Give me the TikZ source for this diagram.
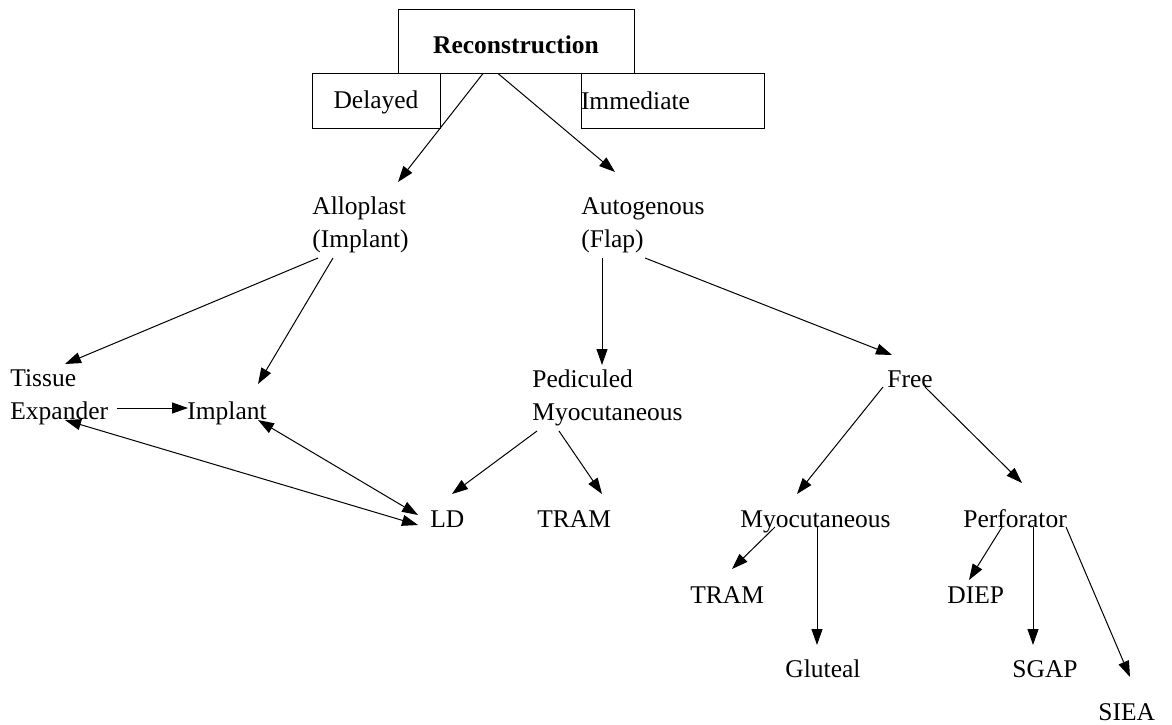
\documentclass[tikz,border=0pt]{standalone}
\usepackage{fontspec}
\setmainfont{Liberation Serif}
\usetikzlibrary{arrows.meta,calc}
\begin{document}
\begin{tikzpicture}[x=0.5pt,y=-0.5pt,
  txt/.style={font=\fontsize{12.75}{16.5}\selectfont},
  lbl/.style={txt, inner sep=0pt, anchor=base west, align=left},
  boxed/.style={txt, draw, line width=0.5pt, inner sep=0pt},
  edge/.style={draw, line width=0.5pt, -{Triangle[length=8pt,width=5.5pt]}},
  biedge/.style={draw, line width=0.5pt, {Triangle[length=8pt,width=5.5pt]}-{Triangle[length=8pt,width=5.5pt]}}
]
\useasboundingbox (0,0) rectangle (1172,724);

% boxes
\node[boxed, minimum width=118pt, minimum height=32pt, text height=12pt, text depth=0pt,
      font=\fontsize{12.75}{16.5}\selectfont\bfseries] (recon) at (516,41) {Reconstruction};
\node[boxed, minimum width=64pt, minimum height=27.5pt, text height=9pt, text depth=1.5pt] (delayed) at (376,100.5) {Delayed};
\node[boxed, minimum width=91.5pt, text width=91.5pt, align=left, minimum height=27.5pt] (immediate) at (672.5,100.5) {Immediate};

% text nodes (base = baseline of the last line)
\node[lbl] (allo) at (312,247) {Alloplast\\(Implant)};
\node[lbl] (auto) at (581,247) {Autogenous\\(Flap)};
\node[lbl] (tissue) at (10,419) {Tissue\\Expander};
\node[lbl] (implant) at (187,419) {Implant};
\node[lbl] (ped) at (532,420) {Pediculed\\Myocutaneous};
\node[lbl] (free) at (887,387) {Free};
\node[lbl] (ld) at (430,527) {LD};
\node[lbl] (tram) at (537,527) {TRAM};
\node[lbl] (myo) at (740,527) {Myocutaneous};
\node[lbl] (perf) at (963,527) {Perforator};
\node[lbl] (tram2) at (690,603) {TRAM};
\node[lbl] (diep) at (947,603) {DIEP};
\node[lbl] (glut) at (785,677) {Gluteal};
\node[lbl] (sgap) at (1012,677) {SGAP};
\node[lbl] (siea) at (1098,720) {SIEA};

% connectors
\draw[edge] ($(recon.south)+(-33,0)$) -- ($(allo.base west)+(86,-65)$);
\draw[edge] ($(recon.south)+(-18,0)$) -- ($(auto.base west)+(34,-75)$);
\draw[edge] ($(allo.base west)+(6,11)$) -- ($(tissue.base west)+(55,-55)$);
\draw[edge] ($(allo.base west)+(21,11)$) -- ($(implant.base west)+(71,-35)$);
\draw[edge] ($(tissue.base west)+(107,-11)$) -- ($(implant.base west)+(1,-11)$);
\draw[biedge] ($(implant.base west)+(71,1)$) -- ($(ld.base west)+(-12,-12)$);
\draw[biedge] ($(tissue.base west)+(55,1)$) -- ($(ld.base west)+(-12,-2)$);
\draw[edge] ($(auto.base west)+(21,11)$) -- ($(ped.base west)+(70,-55)$);
\draw[edge] ($(auto.base west)+(64,11)$) -- ($(free.base west)+(5,-32)$);
\draw[edge] ($(ped.base west)+(5,11)$) -- ($(ld.base west)+(22,-33)$);
\draw[edge] ($(ped.base west)+(27,11)$) -- ($(tram.base west)+(65,-33)$);
\draw[edge] ($(free.base west)+(-4,0)$) -- ($(myo.base west)+(57,-33)$);
\draw[edge] ($(free.base west)+(38,0)$) -- ($(perf.base west)+(59,-44)$);
\draw[edge] ($(myo.base west)+(35,0)$) -- ($(tram2.base west)+(42,-34)$);
\draw[edge] ($(myo.base west)+(77,0)$) -- ($(glut.base west)+(32,-32)$);
\draw[edge] ($(perf.base west)+(39,0)$) -- ($(diep.base west)+(22,-23)$);
\draw[edge] ($(perf.base west)+(70,0)$) -- ($(sgap.base west)+(21,-32)$);
\draw[edge] ($(perf.base west)+(103,0)$) -- ($(siea.base west)+(32,-43)$);
\end{tikzpicture}
\end{document}
